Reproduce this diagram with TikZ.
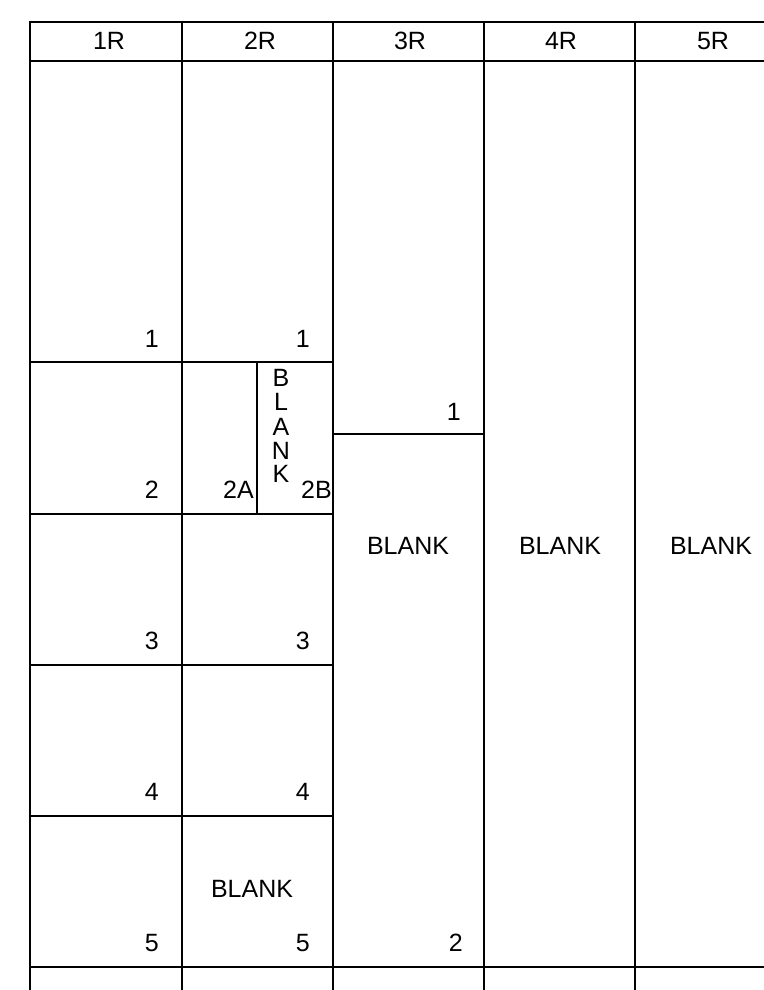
\documentclass[tikz,border=0pt]{standalone}
\usepackage{fontspec}
\setmainfont{Liberation Sans}
\begin{document}
\begin{tikzpicture}[x=1pt,y=-1pt,
  grid/.style={line width=1.7pt,line cap=rect},
  lbl/.style={inner sep=0pt,font=\fontsize{25}{25}\selectfont},
  num/.style={lbl,anchor=base east},
  mid/.style={lbl,anchor=base}]
\useasboundingbox (0,0) rectangle (763,990);
% grid
\draw[grid] (30,22) -- (763,22);
\draw[grid] (30,61) -- (763,61);
\draw[grid] (30,967) -- (763,967);
\foreach \x in {30,182,333,484,635} \draw[grid] (\x,22) -- (\x,991);
\foreach \y in {362,514,665,816} \draw[grid] (30,\y) -- (333,\y);
\draw[grid] (257,362) -- (257,514);
\draw[grid] (333,434) -- (484,434);
% headers
\node[mid] (h1) at (109,50) {1R};
\node[mid] (h2) at (260,50) {2R};
\node[mid] (h3) at (410,50) {3R};
\node[mid] (h4) at (561,50) {4R};
\node[mid] (h5) at (713,50) {5R};
% column 1
\node[num] (a1) at (159,347) {1};
\node[num] (a2) at (159,498) {2};
\node[num] (a3) at (159,649) {3};
\node[num] (a4) at (159,800) {4};
\node[num] (a5) at (159,951) {5};
% column 2
\node[num] (b1) at (310,347) {1};
\node[num] (b2a) at (254,498) {2A};
\node[num] (b2b) at (332,498) {2B};
\node[num] (b3) at (310,649) {3};
\node[num] (b4) at (310,800) {4};
\node[num] (b5) at (310,951) {5};
\node[mid] (b5t) at (252,897) {BLANK};
% vertical BLANK
\node[mid] (v1) at (281,386) {B};
\node[mid] (v2) at (281,410) {L};
\node[mid] (v3) at (281,435) {A};
\node[mid] (v4) at (281,459) {N};
\node[mid] (v5) at (281,482) {K};
% column 3
\node[num] (c1) at (461,420) {1};
\node[num] (c2) at (463,951) {2};
\node[mid] (c3) at (408,554) {BLANK};
% columns 4, 5
\node[mid] (d1) at (560,554) {BLANK};
\node[mid] (e1) at (711,554) {BLANK};
\end{tikzpicture}
\end{document}
